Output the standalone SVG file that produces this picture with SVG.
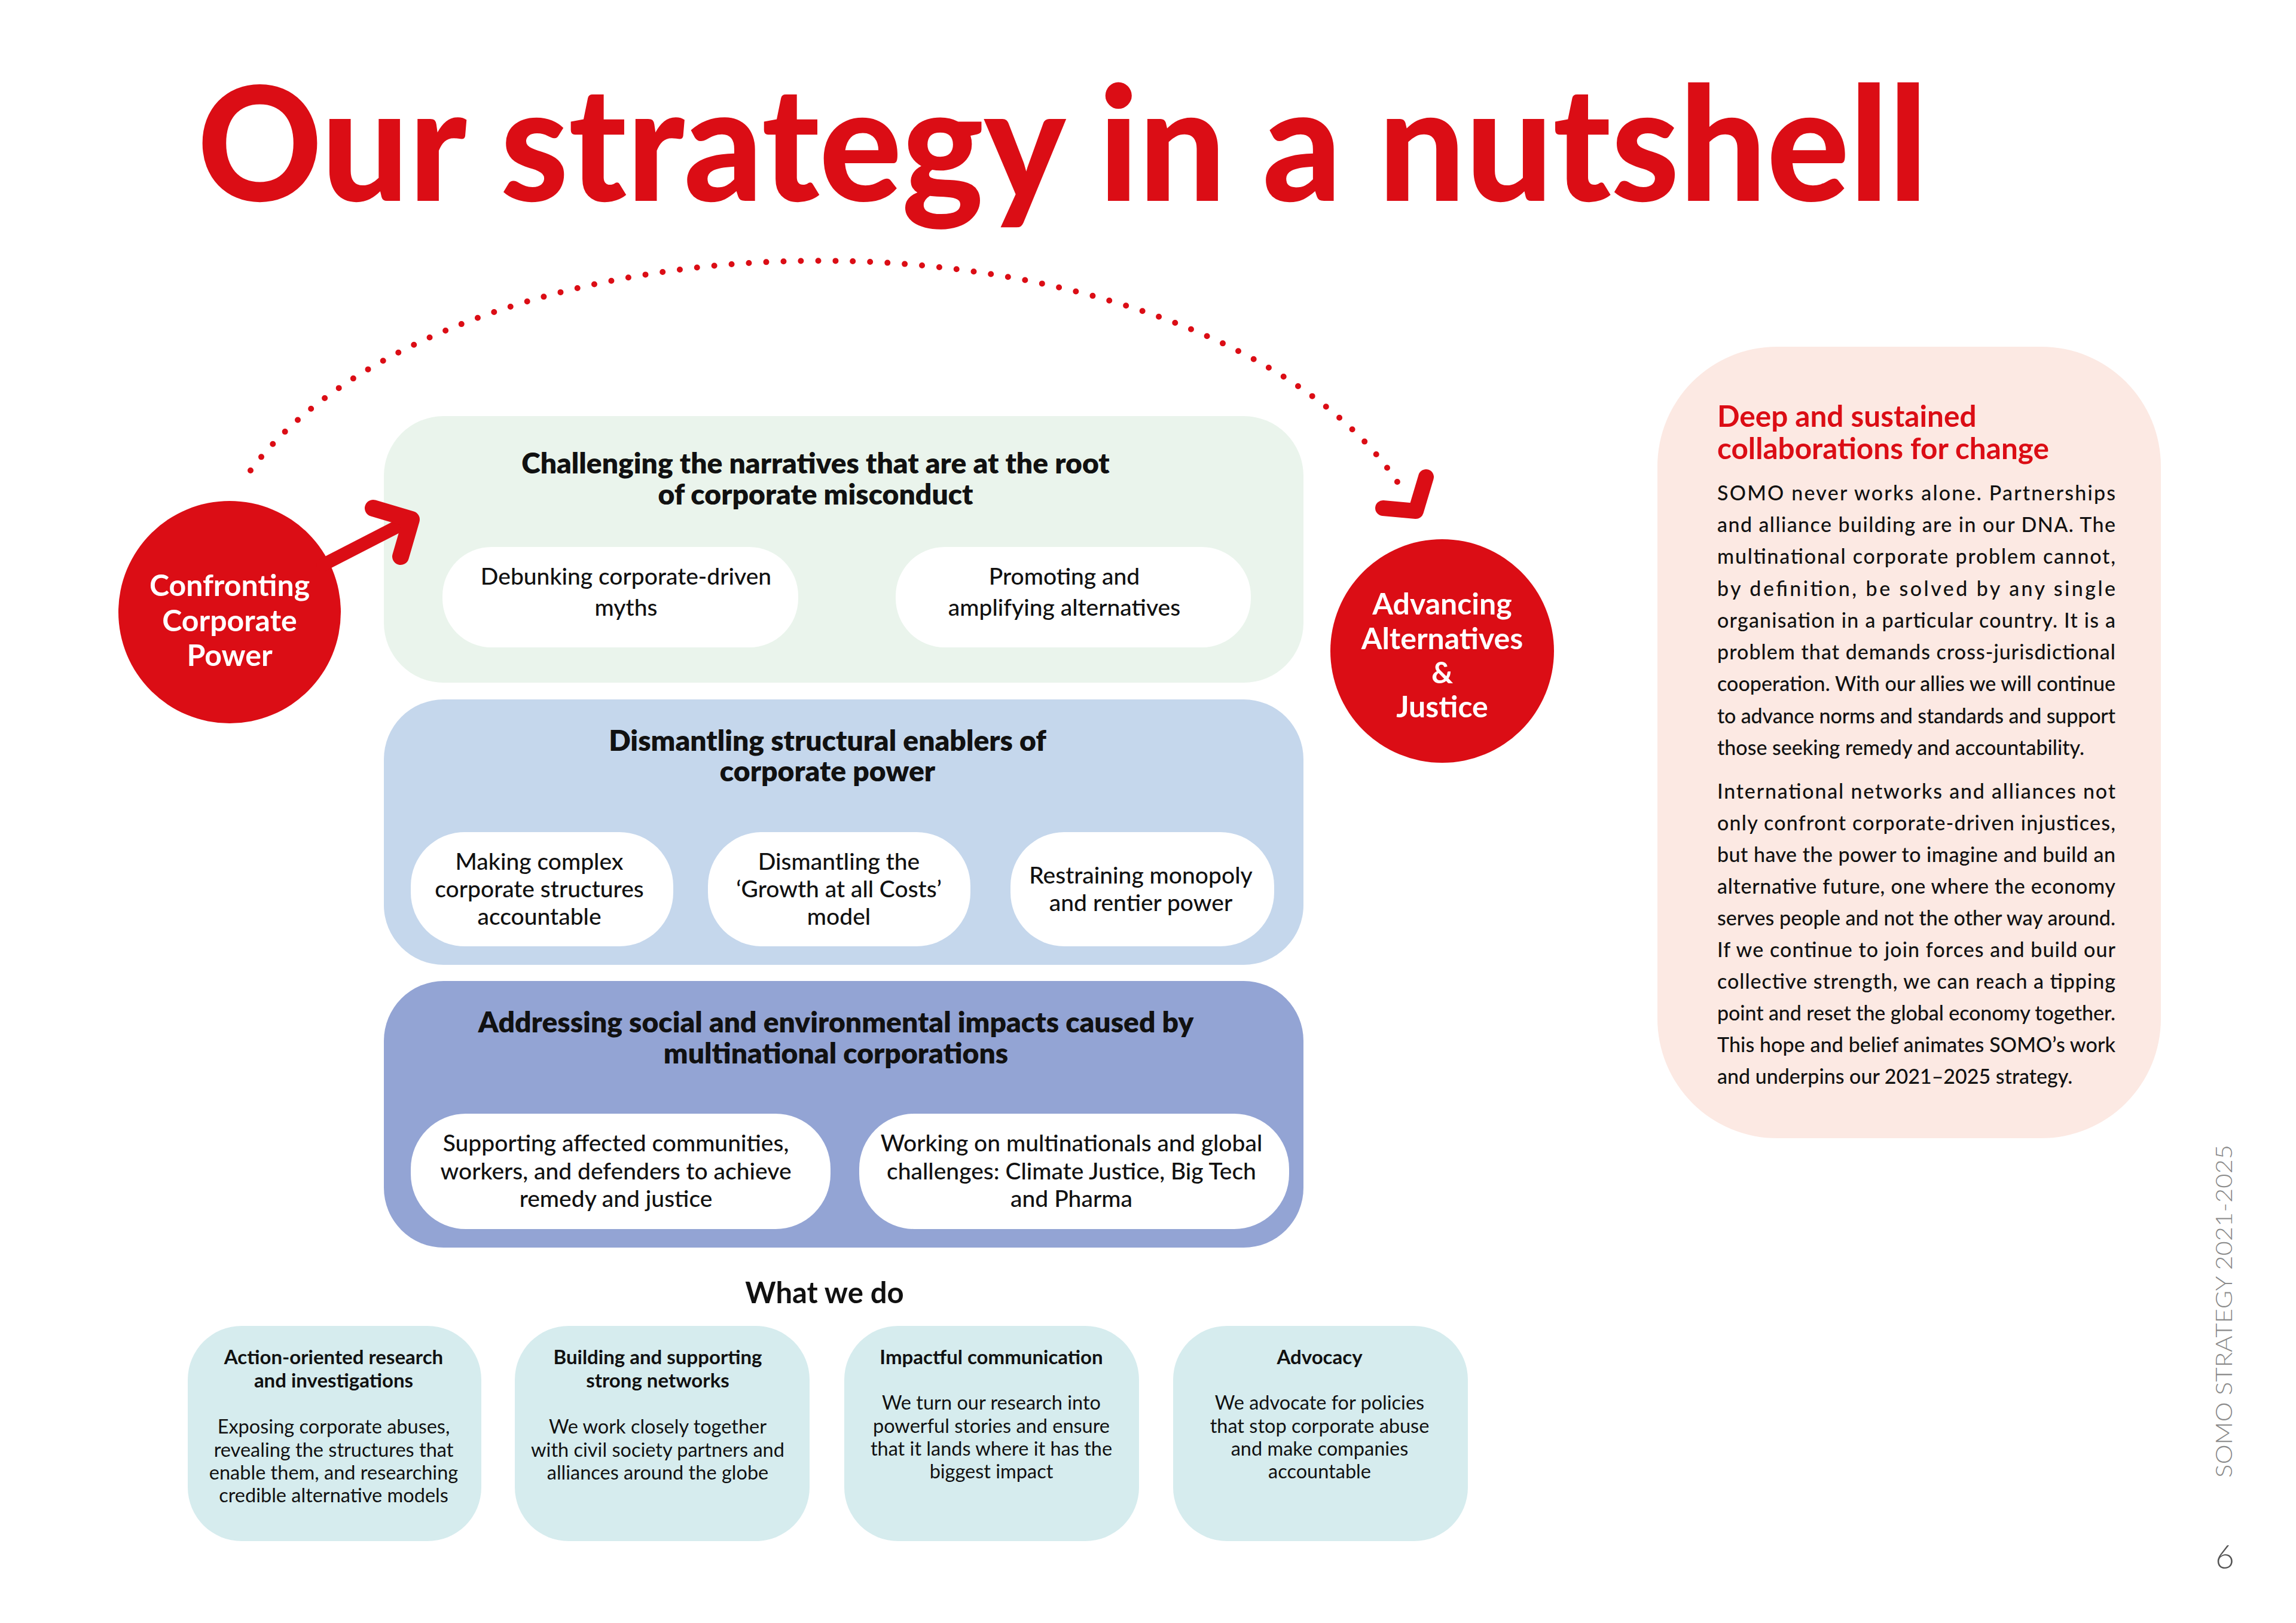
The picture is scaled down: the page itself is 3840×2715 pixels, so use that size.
<svg xmlns="http://www.w3.org/2000/svg" width="3840" height="2715" viewBox="0 0 3840 2715">
<style>
text{font-family:Lato,"Liberation Sans",Arial,sans-serif;fill:#111}
.title{font-weight:900;fill:#DB0D15;font-size:266px}
.bh{font-weight:800;font-size:48px;text-anchor:middle}
.pt{font-weight:500;font-size:39px;text-anchor:middle}
.ct{font-weight:700;font-size:50px;text-anchor:middle;fill:#fff}
.kt{font-weight:700;font-size:33px;text-anchor:middle}
.kb{font-weight:400;font-size:32.5px;text-anchor:middle}
.wh{font-weight:700;font-size:49px;text-anchor:middle}
.ph{font-weight:700;font-size:49.5px;fill:#DB0D15}
.pb{font-weight:500;font-size:34px}
.side{font-weight:300;font-size:37px;fill:#8a8a8a}
.pill{fill:#fff}
.card{fill:#D6ECEE}
</style>

<text class="title" x="330" y="336" textLength="2894" lengthAdjust="spacingAndGlyphs">Our strategy in a nutshell</text>

<g id="box-narratives">
<rect x="642" y="696" width="1538" height="446" rx="100" fill="#EAF4EC"/>
<text class="bh" x="1364" y="792">Challenging the narratives that are at the root</text>
<text class="bh" x="1364" y="844">of corporate misconduct</text>
</g>
<g id="pill-debunking">
<rect class="pill" x="740" y="915" width="595" height="168" rx="82"/>
<text class="pt" x="1047" y="978">Debunking corporate-driven</text>
<text class="pt" x="1047" y="1030">myths</text>
</g>
<g id="pill-promoting">
<rect class="pill" x="1498" y="915" width="594" height="168" rx="82"/>
<text class="pt" x="1780" y="978">Promoting and</text>
<text class="pt" x="1780" y="1030">amplifying alternatives</text>
</g>

<g id="box-dismantling">
<rect x="642" y="1170" width="1538" height="444" rx="100" fill="#C5D7EC"/>
<text class="bh" x="1384" y="1256">Dismantling structural enablers of</text>
<text class="bh" x="1384" y="1307">corporate power</text>
</g>
<g id="pill-complex">
<rect class="pill" x="687" y="1392" width="439" height="191" rx="90"/>
<text class="pt" x="902" y="1455">Making complex</text>
<text class="pt" x="902" y="1501">corporate structures</text>
<text class="pt" x="902" y="1547">accountable</text>
</g>
<g id="pill-growth">
<rect class="pill" x="1184" y="1392" width="439" height="191" rx="90"/>
<text class="pt" x="1403" y="1455">Dismantling the</text>
<text class="pt" x="1403" y="1501">‘Growth at all Costs’</text>
<text class="pt" x="1403" y="1547">model</text>
</g>
<g id="pill-monopoly">
<rect class="pill" x="1690" y="1392" width="441" height="191" rx="90"/>
<text class="pt" x="1908" y="1478">Restraining monopoly</text>
<text class="pt" x="1908" y="1524">and rentier power</text>
</g>

<g id="box-addressing">
<rect x="642" y="1641" width="1538" height="446" rx="100" fill="#93A4D4"/>
<text class="bh" x="1398" y="1727">Addressing social and environmental impacts caused by</text>
<text class="bh" x="1398" y="1779">multinational corporations</text>
</g>
<g id="pill-supporting">
<rect class="pill" x="687" y="1863" width="702" height="193" rx="92"/>
<text class="pt" x="1030" y="1926">Supporting affected communities,</text>
<text class="pt" x="1030" y="1973">workers, and defenders to achieve</text>
<text class="pt" x="1030" y="2019">remedy and justice</text>
</g>
<g id="pill-working">
<rect class="pill" x="1437" y="1863" width="719" height="193" rx="92"/>
<text class="pt" x="1792" y="1926">Working on multinationals and global</text>
<text class="pt" x="1792" y="1973">challenges: Climate Justice, Big Tech</text>
<text class="pt" x="1792" y="2019">and Pharma</text>
</g>

<g id="node-confronting">
<circle cx="384" cy="1024" r="186" fill="#DB0D15"/>
<text class="ct" x="384" y="997">Confronting</text>
<text class="ct" x="384" y="1056">Corporate</text>
<text class="ct" x="384" y="1114">Power</text>
</g>

<g id="node-advancing">
<circle cx="2412" cy="1089" r="187" fill="#DB0D15"/>
<text class="ct" x="2412" y="1028">Advancing</text>
<text class="ct" x="2412" y="1086">Alternatives</text>
<text class="ct" x="2412" y="1143">&amp;</text>
<text class="ct" x="2412" y="1200">Justice</text>
</g>

<g id="connectors" fill="none" stroke="#DB0D15" stroke-linecap="round" stroke-linejoin="round">
<path d="M419,787 A1030,567 0 0 1 2349,825" stroke-width="10" stroke-dasharray="0 29"/>
<line x1="540" y1="945" x2="678" y2="874" stroke-width="22"/>
<polyline points="624,850 688,869 670,931" stroke-width="28"/>
<polyline points="2313,850 2368,855 2385,798" stroke-width="26"/>
</g>

<text class="wh" x="1379" y="2180">What we do</text>

<g id="card-research">
<rect class="card" x="314" y="2218" width="491" height="360" rx="90"/>
<text class="kt" x="558" y="2282">Action-oriented research</text>
<text class="kt" x="558" y="2321">and investigations</text>
<text class="kb" x="558" y="2398">Exposing corporate abuses,</text>
<text class="kb" x="558" y="2437">revealing the structures that</text>
<text class="kb" x="558" y="2475">enable them, and researching</text>
<text class="kb" x="558" y="2513">credible alternative models</text>
</g>
<g id="card-networks">
<rect class="card" x="861" y="2218" width="493" height="360" rx="90"/>
<text class="kt" x="1100" y="2282">Building and supporting</text>
<text class="kt" x="1100" y="2321">strong networks</text>
<text class="kb" x="1100" y="2398">We work closely together</text>
<text class="kb" x="1100" y="2437">with civil society partners and</text>
<text class="kb" x="1100" y="2475">alliances around the globe</text>
</g>
<g id="card-communication">
<rect class="card" x="1412" y="2218" width="493" height="360" rx="90"/>
<text class="kt" x="1658" y="2282">Impactful communication</text>
<text class="kb" x="1658" y="2358">We turn our research into</text>
<text class="kb" x="1658" y="2397">powerful stories and ensure</text>
<text class="kb" x="1658" y="2435">that it lands where it has the</text>
<text class="kb" x="1658" y="2473">biggest impact</text>
</g>
<g id="card-advocacy">
<rect class="card" x="1962" y="2218" width="493" height="360" rx="90"/>
<text class="kt" x="2207" y="2282">Advocacy</text>
<text class="kb" x="2207" y="2358">We advocate for policies</text>
<text class="kb" x="2207" y="2397">that stop corporate abuse</text>
<text class="kb" x="2207" y="2435">and make companies</text>
<text class="kb" x="2207" y="2473">accountable</text>
</g>

<g id="panel-collaborations">
<rect x="2772" y="580" width="842" height="1324" rx="200" fill="#FCE9E3"/>
<text class="ph" x="2872" y="714">Deep and sustained</text>
<text class="ph" x="2872" y="768">collaborations for change</text>
<text class="pb" x="2872" y="837" textLength="666" lengthAdjust="spacing">SOMO never works alone. Partnerships</text>
<text class="pb" x="2872" y="890" textLength="666" lengthAdjust="spacing">and alliance building are in our DNA. The</text>
<text class="pb" x="2872" y="943" textLength="666" lengthAdjust="spacing">multinational corporate problem cannot,</text>
<text class="pb" x="2872" y="997" textLength="666" lengthAdjust="spacing">by definition, be solved by any single</text>
<text class="pb" x="2872" y="1050" textLength="666" lengthAdjust="spacing">organisation in a particular country. It is a</text>
<text class="pb" x="2872" y="1103" textLength="666" lengthAdjust="spacing">problem that demands cross-jurisdictional</text>
<text class="pb" x="2872" y="1156" textLength="666" lengthAdjust="spacing">cooperation. With our allies we will continue</text>
<text class="pb" x="2872" y="1210" textLength="666" lengthAdjust="spacing">to advance norms and standards and support</text>
<text class="pb" x="2872" y="1263">those seeking remedy and accountability.</text>
<text class="pb" x="2872" y="1336" textLength="666" lengthAdjust="spacing">International networks and alliances not</text>
<text class="pb" x="2872" y="1389" textLength="666" lengthAdjust="spacing">only confront corporate-driven injustices,</text>
<text class="pb" x="2872" y="1442" textLength="666" lengthAdjust="spacing">but have the power to imagine and build an</text>
<text class="pb" x="2872" y="1495" textLength="666" lengthAdjust="spacing">alternative future, one where the economy</text>
<text class="pb" x="2872" y="1548" textLength="666" lengthAdjust="spacing">serves people and not the other way around.</text>
<text class="pb" x="2872" y="1601" textLength="666" lengthAdjust="spacing">If we continue to join forces and build our</text>
<text class="pb" x="2872" y="1654" textLength="666" lengthAdjust="spacing">collective strength, we can reach a tipping</text>
<text class="pb" x="2872" y="1707" textLength="666" lengthAdjust="spacing">point and reset the global economy together.</text>
<text class="pb" x="2872" y="1760" textLength="666" lengthAdjust="spacing">This hope and belief animates SOMO’s work</text>
<text class="pb" x="2872" y="1813">and underpins our 2021–2025 strategy.</text>
</g>

<text class="side" transform="translate(3733,2472) rotate(-90)" x="0" y="0" textLength="557" lengthAdjust="spacingAndGlyphs">SOMO STRATEGY 2021-2025</text>
<text class="side" x="3721" y="2624" style="font-size:55px;text-anchor:middle;fill:#555">6</text>
</svg>
